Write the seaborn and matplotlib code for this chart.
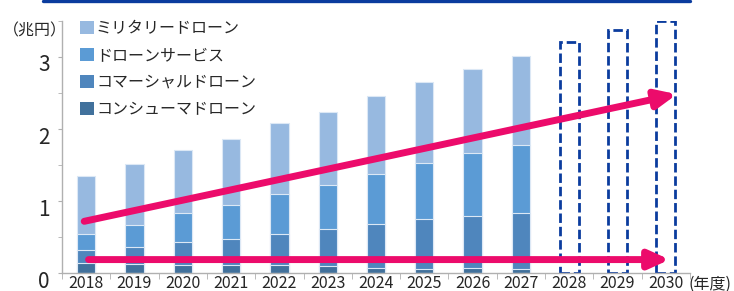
# Drone market size by fiscal year - stacked bars with forecast boxes

import pandas as pd
import seaborn as sns
import matplotlib.pyplot as plt
from matplotlib.patches import Patch
from matplotlib.lines import Line2D
from matplotlib.transforms import ScaledTranslation

# Data (兆円)
years = ["2018", "2019", "2020", "2021", "2022", "2023", "2024", "2025", "2026", "2027"]
forecast_years = ["2028", "2029", "2030"]
consumer = [0.14, 0.13, 0.12, 0.11, 0.11, 0.10, 0.08, 0.06, 0.07, 0.06]
commercial = [0.18, 0.24, 0.32, 0.37, 0.44, 0.51, 0.60, 0.69, 0.73, 0.77]
service = [0.22, 0.30, 0.39, 0.47, 0.55, 0.61, 0.69, 0.78, 0.86, 0.95]
military = [0.81, 0.84, 0.88, 0.91, 0.98, 1.02, 1.09, 1.12, 1.17, 1.23]
forecast_box = [3.21, 3.37, 3.50]

labels = ["ミリタリードローン", "ドローンサービス", "コマーシャルドローン", "コンシューマドローン"]
colors = ["#97B9E0", "#5B9BD5", "#4F86BD", "#41719C"]

all_years = years + forecast_years

df = pd.DataFrame({"year": years, "consumer": consumer, "commercial": commercial,
                   "service": service, "military": military})
df["c1"] = df["consumer"]
df["c2"] = df["c1"] + df["commercial"]
df["c3"] = df["c2"] + df["service"]
df["c4"] = df["c3"] + df["military"]
fc = pd.DataFrame({"year": forecast_years, "value": forecast_box})

sns.set_style("white")
plt.rcParams["font.family"] = ["Noto Sans CJK JP", "DejaVu Sans"]

fig = plt.figure(figsize=(7.34, 2.91), dpi=100)
ax = fig.add_axes([62 / 734, (291 - 273.3) / 291, 628 / 734, (273.3 - 20.6) / 291])

# stacked bars drawn as overlapping cumulative bars, tallest first
for col, c in zip(["c4", "c3", "c2", "c1"], colors):
    sns.barplot(data=df, x="year", y=col, order=all_years, color=c, width=0.38,
                saturation=1, edgecolor="#DCE8F5", linewidth=0.8, ax=ax)

# forecast placeholder boxes
sns.barplot(data=fc, x="year", y="value", order=all_years, width=0.39,
            facecolor="none", edgecolor="#0B3C9E", linewidth=2.0,
            linestyle=(0, (3.4, 1.4)), ax=ax)

# pink growth arrows
arrow_kw = dict(arrowstyle="-|>,head_length=0.6,head_width=0.27", color="#EC0B6B",
                lw=5, shrinkA=0, shrinkB=0, mutation_scale=20, capstyle="round")
ax.annotate("", xy=(12.23, 2.48), xytext=(-0.04, 0.72), arrowprops=arrow_kw)
ax.annotate("", xy=(12.08, 0.19), xytext=(0.05, 0.19), arrowprops=arrow_kw)

ax.set_xlim(-0.5, 12.5)
ax.set_ylim(0, 3.5)
ax.set_xlabel("")
ax.set_ylabel("")

for s in ["top", "right"]:
    ax.spines[s].set_visible(False)
for s in ["left", "bottom"]:
    ax.spines[s].set_color("#B0B0B0")
    ax.spines[s].set_linewidth(1)

ax.set_yticks([0, 1, 2, 3])
ax.set_yticks([0.5, 1.5, 2.5, 3.5], minor=True)
ax.tick_params(axis="y", which="both", left=True, direction="out", length=3,
               color="#B0B0B0", labelsize=15, pad=6)
for t in ax.get_yticklabels():
    t.set_transform(t.get_transform() + ScaledTranslation(0, -4.5 / 72, fig.dpi_scale_trans))

ax.set_xticks(range(len(all_years)))
ax.set_xticklabels(all_years)
ax.set_xticks([i - 0.5 for i in range(len(all_years) + 1)], minor=True)
ax.tick_params(axis="x", which="major", length=0, labelsize=11.5, pad=1.5)
ax.tick_params(axis="x", which="minor", bottom=True, direction="out", length=4,
               color="#B0B0B0")

# legend
handles = [Patch(facecolor=c, edgecolor="none") for c in colors]
fig.legend(handles, labels, loc="upper left", bbox_to_anchor=(80 / 734, 1 - 20 / 291),
           frameon=False, fontsize=11.5, handlelength=0.85, handleheight=0.85,
           handletextpad=0.15, labelspacing=0.62, borderpad=0, borderaxespad=0)

# unit labels and header line
fig.text(3 / 734, 1 - 31 / 291, "（兆円）", fontsize=11.5, va="center", ha="left")
fig.text(688 / 734, 1 - 276 / 291, "(年度)", fontsize=11.5, va="top", ha="left")
fig.add_artist(Line2D([43 / 734, 690 / 734], [1 - 1.2 / 291, 1 - 1.2 / 291],
                      color="#0B3C9E", lw=2.4, transform=fig.transFigure))

plt.savefig("out.png", dpi=100)
